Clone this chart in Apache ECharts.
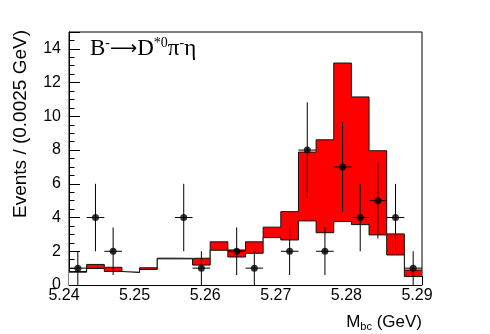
<!DOCTYPE html>
<html>
<head>
<meta charset="utf-8">
<script src="https://cdn.jsdelivr.net/npm/echarts@6/dist/echarts.min.js"></script>
<style>
  html, body { margin: 0; padding: 0; background: #fff; }
  #chart { width: 490px; height: 334px; }
</style>
</head>
<body>
<div id="chart"></div>
<script>
// bin edges in GeV, 0.0025 GeV per bin
const binEdges = [5.24, 5.2425, 5.245, 5.2475, 5.25, 5.2525, 5.255, 5.2575, 5.26, 5.2625, 5.265,
  5.2675, 5.27, 5.2725, 5.275, 5.2775, 5.28, 5.2825, 5.285, 5.2875, 5.29]
// background histogram (black line under the red)
const bkgCounts = [0.76, 0.98, 0.80, 0.74, 0.92, 1.55, 1.55, 1.18, 2.06, 1.66,
  1.88, 2.81, 2.67, 3.80, 3.10, 3.76, 3.58, 2.97, 1.78, 0.50]
// total = background + signal (top of the red)
const totalCounts = [0.80, 1.22, 1.05, 0.76, 1.02, 1.59, 1.58, 1.59, 2.56, 2.08,
  2.56, 3.43, 4.35, 7.88, 8.61, 13.16, 11.15, 7.96, 3.03, 0.89]
// data points and their errors
const dataCounts = [1, 4, 2, 0, 0, 0, 4, 1, 0, 2, 1, 0, 2, 8, 2, 7, 4, 5, 4, 1]
const dataErr = [1, 2, 1.41, 0, 0, 0, 2, 1, 0, 1.41, 1, 0, 1.41, 2.83, 1.41, 2.65, 2, 2.24, 2, 1]

const font = 'Liberation Sans, Arial, sans-serif'
const serif = 'Liberation Serif, Times New Roman, serif'

// step line data: one point per edge, last edge repeats last bin
const stepData = (counts) => binEdges.map((x, i) => [x, counts[Math.min(i, counts.length - 1)]])

const points = []
dataCounts.forEach((n, i) => {
  if (n > 0) points.push([binEdges[i], binEdges[i + 1], n, dataErr[i]])
})

let myChart = echarts.init(document.getElementById('chart'))

const option = {
  animation: false,
  backgroundColor: '#fff',
  title: {
    text: '{n|B}{s|-}{a|\u27f6}{n|D}{s|*0}{n|\u03c0}{s|-}{n|\u03b7}',
    left: 90,
    top: 36,
    padding: 0,
    textStyle: {
      fontWeight: 'normal',
      rich: {
        n: { fontFamily: serif, fontSize: 23, fontWeight: 'normal', color: '#000', lineHeight: 26 },
        a: { fontFamily: 'DejaVu Sans', fontSize: 19, fontWeight: 'normal', color: '#000', lineHeight: 26 },
        s: { fontFamily: serif, fontSize: 14, fontWeight: 'normal', color: '#000', lineHeight: 14, verticalAlign: 'top' }
      }
    }
  },
  grid: {
    left: 69,
    right: 68,
    top: 32,
    bottom: 49,
    show: true,
    borderColor: '#000',
    borderWidth: 1,
    containLabel: false,
    outerBoundsMode: 'none'
  },
  xAxis: {
    type: 'value',
    min: 5.24,
    max: 5.29,
    interval: 0.01,
    splitLine: { show: false },
    axisLine: { lineStyle: { color: '#000', width: 1 } },
    axisTick: { inside: true, length: 9, lineStyle: { color: '#000' } },
    minorTick: { show: true, splitNumber: 5, length: 4.5, lineStyle: { color: '#000' } },
    axisLabel: {
      color: '#000',
      fontFamily: font,
      fontSize: 16,
      margin: 3,
      padding: [0, 10, 0, 0],
      formatter: (v) => v.toFixed(2)
    },
    name: '{m|M}{b|bc}{m| (GeV)}',
    nameLocation: 'end',
    nameGap: 0,
    nameTextStyle: {
      align: 'right',
      verticalAlign: 'top',
      padding: [27, 0, 0, 0],
      rich: {
        m: { fontFamily: font, fontSize: 17, color: '#000', lineHeight: 20 },
        b: { fontFamily: font, fontSize: 11, color: '#000', lineHeight: 20, verticalAlign: 'bottom' }
      }
    }
  },
  yAxis: [
    {
      type: 'value',
      min: 0,
      max: 15,
      interval: 2,
      splitLine: { show: false },
      axisLine: { show: true, lineStyle: { color: '#000', width: 1 } },
      axisTick: { inside: true, length: 11, lineStyle: { color: '#000' } },
      axisLabel: {
        color: '#000',
        fontFamily: font,
        fontSize: 16,
        margin: 8,
        formatter: (v) => (v > 14 ? '' : String(v))
      }
    },
    {
      // minor ticks every 0.5
      type: 'value',
      position: 'left',
      min: 0,
      max: 15,
      interval: 0.5,
      splitLine: { show: false },
      axisLine: { show: false },
      axisTick: { inside: true, length: 5.5, lineStyle: { color: '#000' } },
      axisLabel: { show: false }
    }
  ],
  graphic: [
    {
      type: 'text',
      x: 21,
      y: 30,
      rotation: Math.PI / 2,
      style: {
        text: 'Events / (0.0025 GeV)',
        fontFamily: font,
        fontSize: 19,
        fill: '#000',
        align: 'right',
        verticalAlign: 'middle'
      }
    }
  ],
  series: [
    {
      name: 'total',
      type: 'line',
      step: 'end',
      symbol: 'none',
      data: stepData(totalCounts),
      lineStyle: { color: '#111', width: 1 },
      areaStyle: { color: '#ff0000', opacity: 1 },
      z: 2
    },
    {
      name: 'background',
      type: 'line',
      step: 'end',
      symbol: 'none',
      data: stepData(bkgCounts),
      lineStyle: { color: '#111', width: 1 },
      areaStyle: { color: '#ffffff', opacity: 1 },
      z: 3
    },
    {
      name: 'errors',
      type: 'custom',
      data: points,
      encode: { x: [0, 1], y: 2 },
      z: 4,
      renderItem: (params, api) => {
        const x0 = api.value(0)
        const x1 = api.value(1)
        const y = api.value(2)
        const e = api.value(3)
        const pl = api.coord([x0, y])
        const pr = api.coord([x1, y])
        const pt = api.coord([(x0 + x1) / 2, y + e])
        const pb = api.coord([(x0 + x1) / 2, y - e])
        const st = { stroke: '#000', lineWidth: 1 }
        return {
          type: 'group',
          children: [
            { type: 'line', shape: { x1: pl[0], y1: pl[1], x2: pr[0], y2: pr[1] }, style: st },
            { type: 'line', shape: { x1: pt[0], y1: pt[1], x2: pb[0], y2: pb[1] }, style: st }
          ]
        }
      }
    },
    {
      name: 'data',
      type: 'scatter',
      symbol: 'circle',
      symbolSize: 7,
      itemStyle: { color: '#000' },
      data: points.map((p) => [(p[0] + p[1]) / 2, p[2]]),
      z: 5
    }
  ]
}

myChart.setOption(option)
</script>
</body>
</html>
